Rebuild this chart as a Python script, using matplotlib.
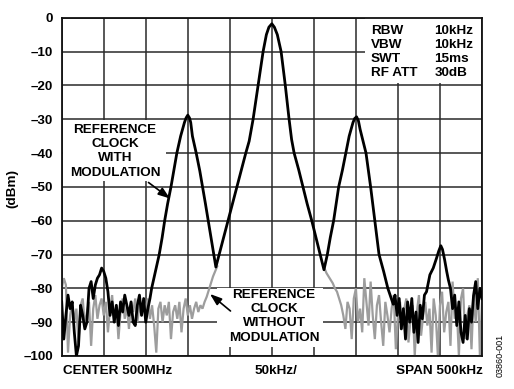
import numpy as np
import matplotlib
matplotlib.use("Agg")
import matplotlib.pyplot as plt
from matplotlib.patches import Rectangle

# ---------------- data (frequency offset in kHz, level in dBm) ----------------
y_ticks = [0, -10, -20, -30, -40, -50, -60, -70, -80, -90, -100]
y_tick_labels = ["0", "–10", "–20", "–30", "–40", "–50", "–60", "–70", "–80", "–90", "–100"]
x_ticks = [-250, -200, -150, -100, -50, 0, 50, 100, 150, 200, 250]

# black trace: reference clock WITH modulation
black_left_noise_khz = np.arange(-250, -144.9, 2.5)
black_left_noise_dbm = [
    -84, -95, -88, -82, -86, -84, -93, -100, -97, -85,
    -88, -92, -90, -80, -78, -83, -79, -77, -76, -74,
    -75, -77, -81, -88, -84, -90, -85, -91, -84, -87,
    -82, -85, -88, -84, -90, -91, -85, -82, -88, -83,
    -90, -86, -83]
black_peaks_khz = [
    -143, -138.5, -134, -130.5, -127.5, -124, -120, -116.5, -113, -108.5,
    -104, -102, -100, -98, -96.5, -94.5, -90, -85.7, -82.4, -79,
    -75.7, -72.3, -69, -66.6, -62.7, -57.5, -52.2, -47, -41.6, -36.3,
    -31, -27, -22.3, -16.3, -10.4, -6.5, -3.5, 0, 3, 6.5,
    11, 16, 20.5, 23.5, 26.5, 32, 37, 42, 47.5, 52.5,
    57.5, 62, 66, 69.5, 73.5, 76.5, 79.5, 84, 88, 92,
    96.5, 98.5, 100.8, 103, 105, 108.5, 112, 117.5, 122.5, 127.5,
    133, 138, 144.4]
black_peaks_dbm = [
    -80, -75, -70, -65, -60, -55, -50, -45, -40, -35,
    -31, -29.6, -28.8, -29.6, -31, -35, -40, -45.3, -50, -55,
    -60, -65, -70, -73.7, -70, -65, -60, -55, -50, -45,
    -40, -36.5, -30, -20, -10, -5, -2.8, -1.8, -2.8, -5,
    -10, -20, -30, -36, -40, -45, -50, -55, -60, -65,
    -70, -74.5, -70, -65, -60, -55, -50, -45, -40, -35,
    -31, -29.8, -29.3, -30.5, -33, -36.5, -40, -50, -60, -70,
    -75, -80, -84.7]
black_right_noise_khz = [
    146.5, 149, 151.5, 154, 156.5, 159, 161.5, 164, 166.5, 169,
    171.5, 174, 176.5, 179, 181.5, 184, 188, 192, 196, 198.5,
    201, 203, 205.5, 208, 210, 212.5, 215, 217.5, 220, 222.5,
    225, 227.5, 230, 232.5, 235, 237.5, 240, 242.5, 245, 247.5,
    250]
black_right_noise_dbm = [
    -82, -88, -83, -92, -86, -95, -84, -90, -83, -93,
    -87, -96, -85, -89, -82, -81, -76, -74, -71, -69,
    -67.4, -68.5, -71.5, -75, -77.5, -80, -86, -82, -91, -84,
    -93, -96, -88, -95, -86, -90, -82, -78, -86, -80,
    -83]

# grey trace: reference clock WITHOUT modulation (centre part hidden under black)
grey_left_khz = np.arange(-250, -64.9, 2.5)
grey_left_dbm = [
    -80, -77, -79, -99, -88, -84, -90, -86, -96, -85,
    -83, -91, -87, -84, -97, -86, -82, -89, -85, -83,
    -88, -84, -93, -86, -82, -90, -85, -95, -87, -83,
    -89, -85, -92, -84, -87, -83, -90, -85, -88, -84,
    -86, -83, -89, -85, -91, -99, -86, -84, -90, -85,
    -88, -84, -95, -87, -85, -89, -84, -93, -86, -83,
    -88, -85, -89, -86, -84, -87, -85, -86, -84,
    -82.5, -80.5, -78.5, -76.5, -75, -73.5]
grey_right_khz = np.arange(62.5, 250.1, 2.5)
grey_right_dbm = [
    -74, -75.5, -76.5, -77.5, -78.5, -80, -81, -83, -85,
    -88, -92, -84, -86, -95, -83, -80, -90, -86, -93,
    -77, -84, -91, -78, -88, -95, -85, -82, -90, -97,
    -84, -88, -93, -86, -82, -98, -88, -84, -92, -86,
    -83, -96, -89, -85, -100, -87, -82, -94, -88, -84,
    -91, -86, -99, -83, -88, -100, -85, -81, -93, -87,
    -84, -97, -78, -89, -86, -100, -83, -80, -95, -88,
    -85, -98, -82, -90, -77, -100, -84]

settings_names = ["RBW", "VBW", "SWT", "RF ATT"]
settings_values = ["10kHz", "10kHz", "15ms", "30dB"]

# ---------------- figure ----------------
W, H = 514, 389
fig = plt.figure(figsize=(W / 100, H / 100), dpi=100)
fig.patch.set_facecolor("white")

L, R, T, B = 61.7, 482.0, 17.7, 356.0
ax = fig.add_axes([L / W, 1 - B / H, (R - L) / W, (B - T) / H])

FONT = "Liberation Sans"
FS = 9.7

ax.set_xlim(-250, 250)
ax.set_ylim(-100, 0)
ax.set_xticks(x_ticks)
ax.set_xticklabels([])
ax.set_yticks(y_ticks)
ax.set_yticklabels(y_tick_labels, fontfamily=FONT, fontweight="bold", fontsize=FS)
ax.tick_params(axis="both", length=0, pad=6)
ax.set_axisbelow(True)
ax.grid(True, color="#2a2a2a", linewidth=1.1)
for s in ax.spines.values():
    s.set_linewidth(1.3)
    s.set_color("#111111")


def axp(px, py):
    """pixel position -> axes fraction"""
    return (px - L) / (R - L), (B - py) / (B - T)


def box(x0, y0, x1, y1):
    ax0, ay1 = axp(x0, y0)
    ax1, ay0 = axp(x1, y1)
    ax.add_patch(Rectangle((ax0, ay0), ax1 - ax0, ay1 - ay0, transform=ax.transAxes,
                           facecolor="white", edgecolor="none", zorder=1))


# white boxes behind the annotations (hide grid)
box(63, 119.5, 166, 181)
box(217, 287.5, 323, 347)
box(365, 18.5, 481.3, 83)

# traces
grey_khz = np.concatenate([grey_left_khz, [np.nan], grey_right_khz])
grey_dbm = np.concatenate([grey_left_dbm, [np.nan], grey_right_dbm])
ax.plot(grey_khz, grey_dbm, color="#9d9d9d", linewidth=1.6, zorder=2,
        solid_joinstyle="miter")

black_khz = np.concatenate([black_left_noise_khz, black_peaks_khz, black_right_noise_khz])
black_dbm = np.concatenate([black_left_noise_dbm, black_peaks_dbm, black_right_noise_dbm])
ax.plot(black_khz, black_dbm, color="black", linewidth=2.0, zorder=3,
        solid_joinstyle="round")

# settings block
ys = [31.3, 45.0, 59.3, 73.3]
for name, val, yy in zip(settings_names, settings_values, ys):
    fx, fy = axp(370.7, yy)
    ax.text(fx, fy, name, transform=ax.transAxes, fontfamily=FONT, fontweight="bold",
            fontsize=FS, ha="left", va="center", zorder=4)
    fx, fy = axp(434.3, yy)
    ax.text(fx, fy, val, transform=ax.transAxes, fontfamily=FONT, fontweight="bold",
            fontsize=FS, ha="left", va="center", zorder=4)

# annotation with modulation
for line, yy in zip(["REFERENCE", "CLOCK", "WITH", "MODULATION"], [130.0, 144.2, 158.3, 172.5]):
    fx, fy = axp(115.0, yy)
    ax.text(fx, fy, line, transform=ax.transAxes, fontfamily=FONT, fontweight="bold",
            fontsize=FS, ha="center", va="center", zorder=4)
# annotation without modulation
for line, yy in zip(["REFERENCE", "CLOCK", "WITHOUT", "MODULATION"], [295.0, 309.2, 323.0, 338.0]):
    fx, fy = axp(274.0, yy)
    ax.text(fx, fy, line, transform=ax.transAxes, fontfamily=FONT, fontweight="bold",
            fontsize=FS, ha="center", va="center", zorder=4)

# arrows
ax.annotate("", xy=axp(170.0, 198.5), xytext=axp(148.5, 182.5),
            xycoords="axes fraction", textcoords="axes fraction",
            arrowprops=dict(arrowstyle="-|>,head_length=0.7,head_width=0.25",
                            color="black", lw=1.2, shrinkA=0, shrinkB=0), zorder=5)
ax.annotate("", xy=axp(210.0, 294.0), xytext=axp(230.5, 311.0),
            xycoords="axes fraction", textcoords="axes fraction",
            arrowprops=dict(arrowstyle="-|>,head_length=0.7,head_width=0.25",
                            color="black", lw=1.2, shrinkA=0, shrinkB=0), zorder=5)

# outer labels
fig.text(12 / W, 1 - 188 / H, "(dBm)", rotation=90, fontfamily=FONT, fontweight="bold",
         fontsize=FS, ha="center", va="center")
fig.text(62.7 / W, 1 - 371.5 / H, "CENTER 500MHz", fontfamily=FONT, fontweight="bold",
         fontsize=FS, ha="left", va="center")
fig.text(276 / W, 1 - 371.5 / H, "50kHz/", fontfamily=FONT, fontweight="bold",
         fontsize=FS, ha="center", va="center")
fig.text(482.5 / W, 1 - 371.5 / H, "SPAN 500kHz", fontfamily=FONT, fontweight="bold",
         fontsize=FS, ha="right", va="center")
fig.text(500 / W, 1 - 355 / H, "03860-001", rotation=90, fontfamily=FONT,
         fontsize=6.5, ha="center", va="center")

fig.savefig("out.png", dpi=100)
